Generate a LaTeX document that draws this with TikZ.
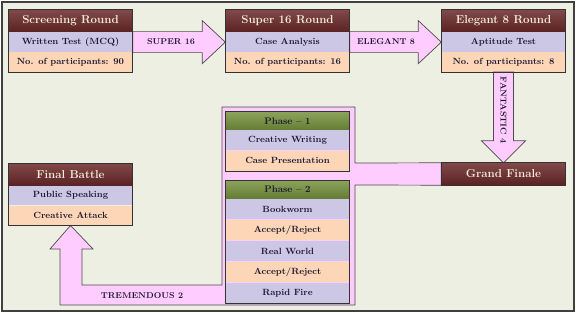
\documentclass[tikz,border=0pt]{standalone}
\usetikzlibrary{positioning,calc}
\definecolor{bgc}{HTML}{ECEFE1}\definecolor{mar}{HTML}{6A2828}\definecolor{grn}{HTML}{76923C}
\definecolor{lav}{HTML}{CBC7E4}\definecolor{pch}{HTML}{FCD6B6}\definecolor{pnk}{HTML}{FFCCFF}
\definecolor{ink}{HTML}{1F1A33}\definecolor{crm}{HTML}{F6EEDC}
\tikzset{row/.style={minimum width=124pt,minimum height=19.5pt,inner sep=0pt,text=ink,font=\fontsize{9}{10}\selectfont\bfseries},
ra/.style={row,fill=lav},rb/.style={row,fill=pch},
hd/.style={row,minimum height=22pt,top color=mar!85,bottom color=mar!85!black,text=crm,font=\fontsize{11.5}{13}\selectfont\bfseries},
hg/.style={hd,minimum height=18pt,top color=grn!85,bottom color=grn!85!black,text=ink,font=\fontsize{9.5}{11}\selectfont\bfseries},
fr/.style={draw=black!80,line width=0.9pt},blk/.style={draw=black!70,line width=0.7pt,fill=pnk},
lbl/.style={text=ink,inner sep=1pt,font=\fontsize{8.5}{10}\selectfont\bfseries}}
\begin{document}
\begin{tikzpicture}[x=1pt,y=-1pt]
\useasboundingbox(0,0)rectangle(576,315);
\draw[line width=2pt,draw=black!75,fill=bgc](2,2)rectangle(574,311);
% rounds
\node[hd](scr)at(70.5,21){Screening Round};\node[ra,below=0pt of scr](scrA){Written Test (MCQ)};\node[rb,below=0pt of scrA](scrB){No. of participants: 90};
\node[hd](s16)at(287.5,21){Super 16 Round};\node[ra,below=0pt of s16](s16A){Case Analysis};\node[rb,below=0pt of s16A](s16B){No. of participants: 16};
\node[hd](el8)at(503.5,21){Elegant 8 Round};\node[ra,below=0pt of el8](el8A){Aptitude Test};\node[rb,below=0pt of el8A](el8B){No. of participants: 8};
\node[hd](gf)at(503.5,174){Grand Finale};
\node[hd](fb)at(70.5,174.5){Final Battle};\node[ra,below=0pt of fb](fbA){Public Speaking};\node[rb,below=0pt of fbA](fbB){Creative Attack};
% block arrows
\foreach\a/\b in{scrA/s16A,s16A/el8A}\draw[blk]($(\a.east)+(0,-10.5)$)--($(\b.west)+(-23,-10.5)$)--($(\b.west)+(-23,-21.5)$)--(\b.west)--($(\b.west)+(-23,21.5)$)--($(\b.west)+(-23,10.5)$)--($(\a.east)+(0,10.5)$)--cycle;
\draw[blk]($(el8B.south)+(-10,0)$)--($(gf.north)+(-10,-22)$)--($(gf.north)+(-22,-22)$)--(gf.north)--($(gf.north)+(22,-22)$)--($(gf.north)+(10,-22)$)--($(el8B.south)+(10,0)$)--cycle;
\draw[blk](gf.north west)--(355,163)--(355,107)--(222,107)--(222,285)--(82,285)--($(fbB.south)+(11.5,23.5)$)--($(fbB.south)+(22.5,23.5)$)--(fbB.south)--($(fbB.south)+(-20.5,23.5)$)--($(fbB.south)+(-10.5,23.5)$)--(60,305)--(355,305)--(355,185)--(gf.south west)--cycle;
% phases
\node[hg](pA)at(287.5,121){Phase -- 1};\node[ra,minimum height=20pt,below=0pt of pA](pAa){Creative Writing};\node[rb,minimum height=20pt,below=0pt of pAa](pAb){Case Presentation};
\node[hg](pB)at(287.5,189.5){Phase -- 2};\node[ra,minimum height=20.6pt,below=0pt of pB](pBa){Bookworm};\node[rb,minimum height=20.6pt,below=0pt of pBa](pBb){Accept/Reject};
\node[ra,minimum height=20.6pt,below=0pt of pBb](pBc){Real World};\node[rb,minimum height=20.6pt,below=0pt of pBc](pBd){Accept/Reject};\node[ra,minimum height=20.6pt,below=0pt of pBd](pBe){Rapid Fire};
\foreach\a/\b in{scr/scrB,s16/s16B,el8/el8B,gf/gf,fb/fbB,pA/pAb,pB/pBe}\draw[fr](\a.north west)rectangle(\b.south east);
% labels
\node[lbl](l16)at(171,42){SUPER 16};\node[lbl](l8)at(386,42){ELEGANT 8};
\node[lbl,rotate=-90](l4)at(503.5,110){FANTASTIC 4};\node[lbl](l2)at(142,296){TREMENDOUS 2};
\end{tikzpicture}
\end{document}
